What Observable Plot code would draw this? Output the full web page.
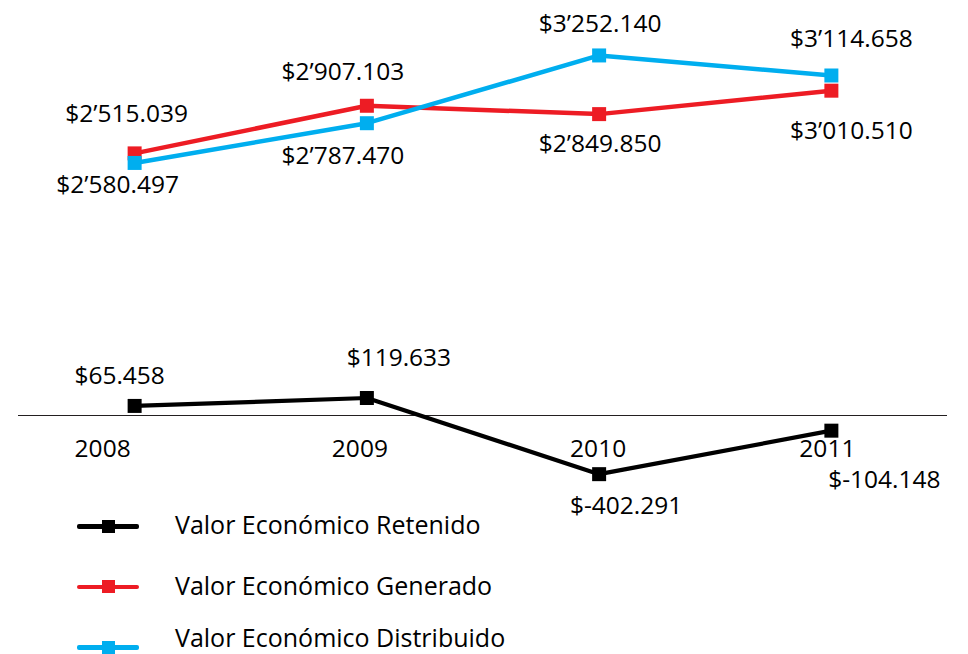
<!DOCTYPE html>
<html>
<head>
<meta charset="utf-8">
<script src="https://cdn.jsdelivr.net/npm/d3@7"></script>
<script src="https://cdn.jsdelivr.net/npm/@observablehq/plot@0.6"></script>
<style>
  body { margin: 0; background: #fff; font-family: "Open Sans", sans-serif; }
  #wrap { position: relative; width: 968px; height: 654px; overflow: hidden; background: #fff; }
  #legend { position: absolute; left: 0; top: 0; width: 968px; height: 654px; pointer-events: none; }
  .item { position: absolute; left: 77px; height: 30px; width: 880px; }
  .sw { position: absolute; left: 0; top: 13px; width: 62px; height: 4.5px; border-radius: 2px; }
  .sq { position: absolute; left: 24.5px; top: 8.5px; width: 13px; height: 13px; }
  .lt { position: absolute; left: 98px; top: 0; line-height: 20px; font-size: 25px; color: #000; white-space: nowrap; }
  #err { position: absolute; left: 10px; top: 10px; font-size: 14px; color: #c00; white-space: pre-wrap; width: 940px; }
</style>
</head>
<body>
<div id="wrap"><div id="chart"></div><div id="legend"></div><div id="err"></div></div>
<script>
// ---- data ----
const years = [2008, 2009, 2010, 2011];
const yearLabels = ["2008", "2009", "2010", "2011"];
const generado = [2580.497, 2907.103, 2849.850, 3010.510];
const distribuido = [2515.039, 2787.470, 3252.140, 3114.658];
const retenido = [65.458, 119.633, -402.291, -104.148];
const generadoLabels = ["$2’515.039", "$2’907.103", "$2’849.850", "$3’010.510"];
const distribuidoLabels = ["$2’580.497", "$2’787.470", "$3’252.140", "$3’114.658"];
const retenidoLabels = ["$65.458", "$119.633", "$-402.291", "$-104.148"];
const seriesNames = ["Valor Económico Retenido", "Valor Económico Generado", "Valor Económico Distribuido"];
const seriesColors = ["#000000", "#ED1C24", "#00AEEF"];

try {
const rows = (vals, labels) => years.map((y, i) => ({year: y, value: vals[i], label: labels[i]}));
const gen = rows(generado, generadoLabels);
const dis = rows(distribuido, distribuidoLabels);
const ret = rows(retenido, retenidoLabels);
const yrs = years.map((y, i) => ({year: y, value: 0, label: yearLabels[i]}));

const FS = 24.5;
const txt = (data, i, dx, dy) => Plot.text([data[i]], {x: "year", y: "value", text: "label", dx, dy, fill: "#000", fontSize: FS});

const chart = Plot.plot({
  width: 968,
  height: 654,
  marginLeft: 18,
  marginRight: 21,
  marginTop: 0,
  marginBottom: 0,
  x: {type: "linear", domain: [2007.5, 2011.5], axis: null},
  y: {type: "linear", domain: [-600, 200, 2300, 3500], range: [502.5, 385.8, 193.8, 18.8], axis: null},
  style: {fontFamily: "'Open Sans', sans-serif", fontSize: FS + "px", background: "white", overflow: "visible"},
  marks: [
    Plot.ruleY([0], {stroke: "#231f20", strokeWidth: 1.2}),
    Plot.line(gen, {x: "year", y: "value", stroke: seriesColors[1], strokeWidth: 4.5}),
    Plot.dot(gen, {x: "year", y: "value", symbol: "square", r: 7.9, fill: seriesColors[1]}),
    Plot.line(dis, {x: "year", y: "value", stroke: seriesColors[2], strokeWidth: 4.5}),
    Plot.dot(dis, {x: "year", y: "value", symbol: "square", r: 7.9, fill: seriesColors[2]}),
    Plot.line(ret, {x: "year", y: "value", stroke: seriesColors[0], strokeWidth: 4.2}),
    Plot.dot(ret, {x: "year", y: "value", symbol: "square", r: 7.9, fill: seriesColors[0]}),
    txt(gen, 0, -8, -39), txt(gen, 1, -24, -34), txt(gen, 2, 1, 30), txt(gen, 3, 20, 40),
    txt(dis, 0, -17, 22), txt(dis, 1, -24, 33), txt(dis, 2, 1, -31), txt(dis, 3, 20, -36),
    txt(ret, 0, -15, -30), txt(ret, 1, 32, -40), txt(ret, 2, 27, 32), txt(ret, 3, 53, 49),
    txt(yrs, 0, -32, 34), txt(yrs, 1, -7, 34), txt(yrs, 2, -1, 34), txt(yrs, 3, -4, 34)
  ]
});
document.getElementById("chart").appendChild(chart);
} catch (e) {
  document.getElementById("err").textContent = String(e && e.stack || e);
}

// ---- legend (below the plotted region, as in the reference) ----
const legend = document.getElementById("legend");
const swatchCenters = [526, 586.7, 647.3];
const textShift = [2.85, 3.05, -5.55];
seriesNames.forEach((name, i) => {
  const it = document.createElement("div");
  it.className = "item";
  it.style.top = (swatchCenters[i] - 15) + "px";
  it.innerHTML = `<div class="sw" style="background:${seriesColors[i]}"></div><div class="sq" style="background:${seriesColors[i]}"></div><div class="lt" style="top:${textShift[i]}px">${name}</div>`;
  legend.appendChild(it);
});
</script>
</body>
</html>
